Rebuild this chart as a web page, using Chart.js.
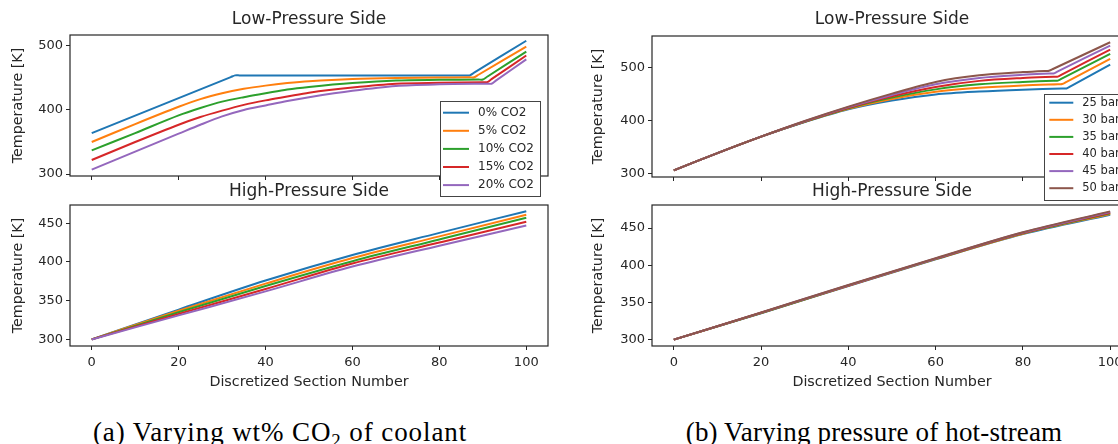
<!DOCTYPE html>
<html>
<head>
<meta charset="utf-8">
<script src="https://cdn.jsdelivr.net/npm/chart.js@4.4.1/dist/chart.umd.min.js"></script>
<style>
  html, body { margin: 0; padding: 0; background: #fff; overflow: hidden; }
  body { width: 1118px; height: 444px; position: relative; }
  canvas { position: absolute; }
  .caption {
    position: absolute; top: 417px; width: 560px; text-align: center;
    font-family: "Liberation Serif", serif; font-size: 27px; line-height: 30px;
    letter-spacing: 0.9px; color: #000; white-space: nowrap;
  }
  .caption sub { font-size: 0.7em; vertical-align: -0.3em; line-height: 0; }
</style>
</head>
<body>
<canvas id="lowA" width="560" height="200" style="left:0;top:0"></canvas>
<canvas id="lowB" width="600" height="205" style="left:560px;top:0"></canvas>
<canvas id="highA" width="560" height="219" style="left:0;top:181px"></canvas>
<canvas id="highB" width="600" height="219" style="left:560px;top:181px"></canvas>
<div class="caption" style="left:0">(a) Varying wt% CO<sub>2</sub> of coolant</div>
<div class="caption" style="left:594px;letter-spacing:0.15px">(b) Varying pressure of hot-stream</div>

<script>
// ---- data ----
const sectionTicks = [0, 20, 40, 60, 80, 100];
const lowTicks = [300, 400, 500];
const highTicks = [300, 350, 400, 450];

const co2Labels = ['0% CO2', '5% CO2', '10% CO2', '15% CO2', '20% CO2'];
const barLabels = ['25 bar', '30 bar', '35 bar', '40 bar', '45 bar', '50 bar'];

// (a) low-pressure side, one x list per series (kinks differ)
const lowA_x = [
  [0, 32, 33, 34, 86, 87, 88, 100],
  [0, 10, 20, 25, 30, 35, 40, 45, 50, 60, 70, 80, 87, 88, 89, 100],
  [0, 10, 20, 25, 30, 35, 40, 45, 50, 60, 70, 80, 89, 90, 91, 100],
  [0, 10, 20, 25, 30, 35, 40, 45, 50, 60, 70, 80, 90, 91, 92, 100],
  [0, 10, 20, 25, 30, 35, 40, 45, 50, 60, 70, 80, 91, 92, 93, 100]
];
const lowA_y = [
  [364, 451.3, 454, 454, 454, 454, 458.2, 508],
  [350, 378, 405, 417, 426, 433, 438, 442, 445, 448.5, 450, 450.5, 451, 451, 455, 499],
  [337, 364, 391.5, 403, 413, 420, 426, 432, 436, 442, 446, 447, 447.5, 447.5, 451.9, 491],
  [322, 350, 377, 389, 399, 408, 415, 421, 427, 435, 441, 442.5, 443.4, 443.5, 448.1, 485],
  [307, 335, 363, 377, 390, 400, 407, 414, 420, 430, 437.5, 440, 441, 441, 445.8, 479]
];

// (a) high-pressure side
const highA_x = [0, 20, 40, 60, 80, 100];
const highA_y = [
  [300, 338.5, 376, 409, 437.5, 465.5],
  [300, 337, 372, 405, 433, 461],
  [300, 335, 369, 401, 429, 457],
  [300, 333, 365, 398, 425, 452],
  [300, 331, 362, 394, 421, 447]
];

// (b) low-pressure side
const lowB_x = [
  [0, 10, 20, 30, 40, 50, 60, 70, 80, 89, 90, 91, 100],
  [0, 10, 20, 30, 40, 50, 60, 70, 80, 88, 89, 90, 100],
  [0, 10, 20, 30, 40, 50, 60, 70, 80, 87, 88, 89, 100],
  [0, 10, 20, 30, 40, 50, 60, 70, 80, 87, 88, 89, 100],
  [0, 10, 20, 30, 40, 50, 60, 70, 80, 86, 87, 88, 100],
  [0, 10, 20, 30, 40, 50, 60, 70, 80, 85, 86, 87, 100]
];
const lowB_y = [
  [306.5, 339, 370, 397.5, 421.5, 438, 449.5, 455, 458.5, 460.6, 460.8, 465.3, 505.8],
  [306.5, 339, 370, 398, 422.5, 441, 454.5, 462, 466.5, 468.8, 469, 473.3, 516.4],
  [306.5, 339, 370, 398, 423.5, 443.5, 459, 468.5, 473, 475.3, 475.5, 479.7, 525.8],
  [306.5, 339, 370, 398.5, 424.5, 446, 463.5, 475, 480.5, 482.8, 483, 487.3, 534],
  [306.5, 339, 370, 399, 425.5, 448.5, 468.5, 480.5, 486.5, 488.8, 489, 493, 541.5],
  [306.5, 339, 370, 399.5, 426.5, 451, 473, 485.5, 491.5, 493.8, 494, 497.8, 547.7]
];

// (b) high-pressure side
const highB_x = [0, 20, 40, 60, 80, 100];
const highB_y = [
  [300, 335.5, 372, 408, 442, 468],
  [300, 335.7, 372.3, 408.3, 442.5, 469],
  [300, 335.9, 372.6, 408.6, 443, 470],
  [300, 336.1, 372.9, 408.9, 443.5, 470.8],
  [300, 336.3, 373.2, 409.2, 444, 471.6],
  [300, 336.5, 373.5, 409.5, 444.5, 472.5]
];

// ---- styling ----
const palette = ['#1f77b4', '#ff7f0e', '#2ca02c', '#d62728', '#9467bd', '#8c564b'];
const INK = '#262626';
Chart.defaults.font.family = '"DejaVu Sans", sans-serif';
Chart.defaults.color = INK;

// matplotlib style box around the axes
const framePlugin = {
  id: 'frame',
  afterDatasetsDraw(chart) {
    const { ctx, chartArea: a } = chart;
    ctx.save();
    ctx.strokeStyle = INK;
    ctx.lineWidth = 1.2;
    ctx.strokeRect(a.left, a.top, a.right - a.left, a.bottom - a.top);
    ctx.restore();
  }
};

// legend box placed where matplotlib put it
const boxLegend = {
  id: 'boxLegend',
  afterDraw(chart, args, o) {
    if (!o.box) return;
    const { ctx } = chart;
    const [bx, by, bw, bh] = o.box;
    ctx.save();
    ctx.fillStyle = '#fff';
    ctx.fillRect(bx, by, bw, bh);
    ctx.strokeStyle = '#444';
    ctx.lineWidth = 1;
    ctx.strokeRect(bx, by, bw, bh);
    ctx.font = o.fontSize + 'px "DejaVu Sans"';
    ctx.textBaseline = 'middle';
    chart.data.datasets.forEach((ds, i) => {
      const y = o.rowY + i * o.rowGap;
      ctx.strokeStyle = ds.borderColor;
      ctx.lineWidth = 2;
      ctx.beginPath();
      ctx.moveTo(o.lineX0, y);
      ctx.lineTo(o.lineX1, y);
      ctx.stroke();
      ctx.fillStyle = INK;
      ctx.fillText(ds.label, o.textX, y);
    });
    ctx.restore();
  }
};

function makeDatasets(labels, xs, ys, smooth) {
  return ys.map((col, i) => ({
    label: labels[i],
    data: col.map((y, j) => ({ x: Array.isArray(xs[0]) ? xs[i][j] : xs[j], y })),
    borderColor: palette[i],
    backgroundColor: palette[i],
    borderWidth: 2,
    pointRadius: 0,
    fill: false,
    tension: smooth ? 0 : 0.3,
    cubicInterpolationMode: smooth ? 'monotone' : 'default',
    order: -i
  }));
}

function panel(id, cfg) {
  new Chart(document.getElementById(id), {
    type: 'line',
    data: { datasets: cfg.datasets },
    plugins: [framePlugin, boxLegend],
    options: {
      responsive: false,
      animation: false,
      layout: { padding: { left: 0, right: cfg.padRight, top: 0, bottom: cfg.padBottom } },
      plugins: {
        legend: { display: false },
        tooltip: { enabled: false },
        title: {
          display: true, text: cfg.title, fullSize: false, color: INK,
          font: { size: 17, weight: 'normal' },
          padding: { top: cfg.titleTop, bottom: cfg.titleBottom }
        },
        boxLegend: cfg.legend || {}
      },
      scales: {
        x: {
          type: 'linear', min: -5, max: 105,
          afterBuildTicks: s => { s.ticks = sectionTicks.map(v => ({ value: v })); },
          afterFit: s => { s.height = cfg.xHeight; },
          grid: { drawOnChartArea: false, color: INK, tickLength: 4 },
          border: { display: false },
          ticks: { color: cfg.xLabels ? INK : 'rgba(0,0,0,0)', padding: 4.5, font: { size: 13 }, maxRotation: 0 },
          title: {
            display: cfg.xLabels, text: 'Discretized Section Number', color: INK,
            font: { size: 14.3 }, padding: { top: 0, bottom: 9.4 }
          }
        },
        y: {
          type: 'linear', min: cfg.yMin, max: cfg.yMax,
          afterBuildTicks: s => { s.ticks = cfg.yTicks.map(v => ({ value: v })); },
          afterFit: s => { s.width = cfg.yWidth; },
          grid: { drawOnChartArea: false, color: INK, tickLength: 4 },
          border: { display: false },
          ticks: { color: INK, padding: 3, font: { size: 13 } },
          title: {
            display: true, text: 'Temperature [K]', color: INK,
            font: { size: 14.3 }, padding: { top: cfg.yTitlePad, bottom: 0 }
          }
        }
      }
    }
  });
}

panel('lowA', {
  datasets: makeDatasets(co2Labels, lowA_x, lowA_y, false),
  title: 'Low-Pressure Side', titleTop: 9.8, titleBottom: 4.8,
  padRight: 12, padBottom: 14, xHeight: 10, xLabels: false,
  yMin: 297, yMax: 517, yTicks: lowTicks, yWidth: 70, yTitlePad: 9.4,
  legend: { box: [440.5, 101.5, 100, 95], rowY: 112.7, rowGap: 18.1,
            lineX0: 443, lineX1: 469, textX: 478, fontSize: 12 }
});

panel('highA', {
  datasets: makeDatasets(co2Labels, highA_x, highA_y, true),
  title: 'High-Pressure Side', titleTop: 0, titleBottom: 3.6,
  padRight: 12, padBottom: 0, xHeight: 54, xLabels: true,
  yMin: 291.5, yMax: 473.5, yTicks: highTicks, yWidth: 70, yTitlePad: 9.4
});

panel('lowB', {
  datasets: makeDatasets(barLabels, lowB_x, lowB_y, false),
  title: 'Low-Pressure Side', titleTop: 9.8, titleBottom: 5.8,
  padRight: 28, padBottom: 18, xHeight: 10, xLabels: false,
  yMin: 294, yMax: 559.5, yTicks: lowTicks, yWidth: 92, yTitlePad: 29.4,
  legend: { box: [484.5, 94.5, 100, 106], rowY: 102.7, rowGap: 17.1,
            lineX0: 489.3, lineX1: 513.3, textX: 522.3, fontSize: 11.5 }
});

panel('highB', {
  datasets: makeDatasets(barLabels, highB_x, highB_y, true),
  title: 'High-Pressure Side', titleTop: 0, titleBottom: 3.6,
  padRight: 28, padBottom: 0, xHeight: 54, xLabels: true,
  yMin: 291.4, yMax: 481.1, yTicks: highTicks, yWidth: 92, yTitlePad: 29.4
});
</script>
</body>
</html>
